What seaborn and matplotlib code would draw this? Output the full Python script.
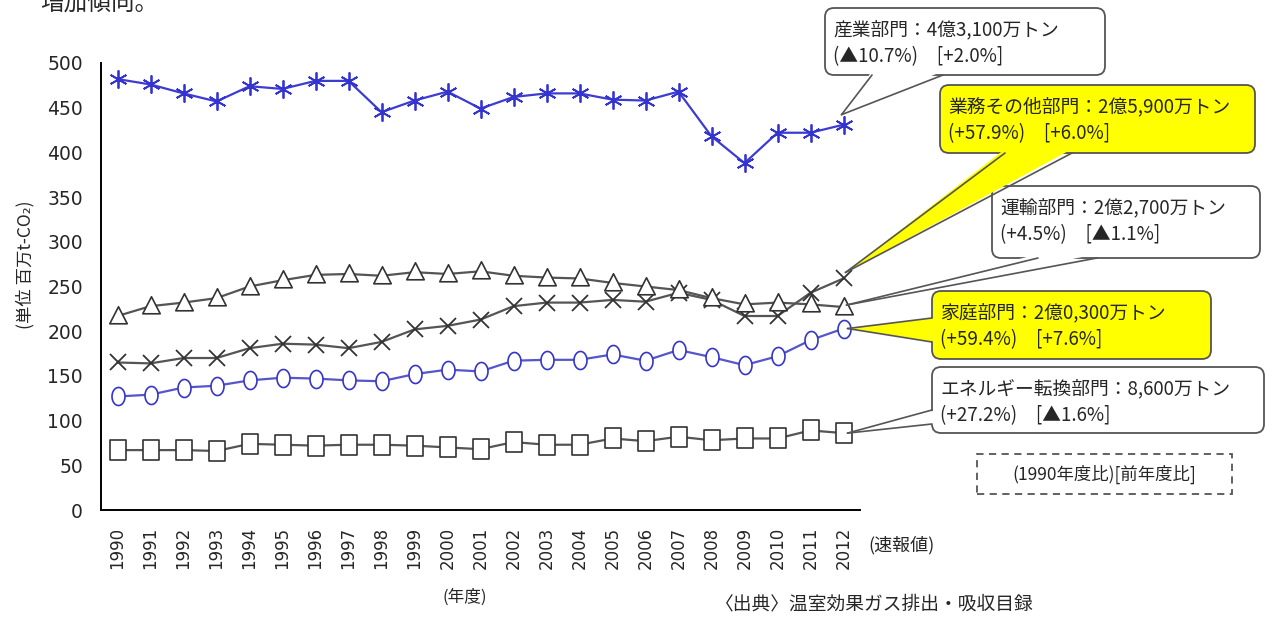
import numpy as np
import pandas as pd
import matplotlib
matplotlib.use("Agg")
import matplotlib.pyplot as plt
import seaborn as sns
from matplotlib.path import Path
from matplotlib.patches import FancyBboxPatch, Polygon, Rectangle
from matplotlib.lines import Line2D

# ---------------------------------------------------------------------------
# data (million t-CO2, fiscal years 1990-2012)
# ---------------------------------------------------------------------------
years = list(range(1990, 2013))
industry = [482, 476, 466, 457, 474, 471, 480, 480, 445, 458, 468, 449, 462,
            466, 466, 459, 458, 468, 418, 388, 422, 422, 431]
commercial = [165, 164, 170, 170, 181, 186, 185, 181, 188, 202, 206, 213, 228,
              232, 232, 235, 233, 243, 235, 217, 217, 243, 259]
transport = [217, 228, 232, 237, 250, 257, 263, 264, 262, 266, 264, 267, 262,
             260, 259, 254, 250, 246, 237, 230, 232, 230, 227]
household = [127, 129, 137, 139, 145, 148, 147, 145, 144, 152, 157, 155, 167,
             168, 168, 174, 167, 179, 171, 162, 172, 190, 203]
energy = [67, 67, 67, 66, 74, 73, 72, 73, 73, 72, 70, 68, 76, 73, 73, 80, 77,
          82, 78, 80, 80, 89, 86]

sectors = ["産業部門", "業務その他部門", "運輸部門", "家庭部門", "エネルギー転換部門"]

callout_lines = {
    "産業部門": ["産業部門：4億3,100万トン", "(▲10.7%)　[+2.0%]"],
    "業務その他部門": ["業務その他部門：2億5,900万トン", "(+57.9%)　[+6.0%]"],
    "運輸部門": ["運輸部門：2億2,700万トン", "(+4.5%)　[▲1.1%]"],
    "家庭部門": ["家庭部門：2億0,300万トン", "(+59.4%)　[+7.6%]"],
    "エネルギー転換部門": ["エネルギー転換部門：8,600万トン", "(+27.2%)　[▲1.6%]"],
}

df = pd.DataFrame({"year": years, "産業部門": industry, "業務その他部門": commercial,
                   "運輸部門": transport, "家庭部門": household,
                   "エネルギー転換部門": energy})
long_df = df.melt(id_vars="year", var_name="sector", value_name="value")

# ---------------------------------------------------------------------------
# style
# ---------------------------------------------------------------------------
sns.set_style("white")
plt.rcParams["font.family"] = ["DejaVu Sans", "Noto Sans CJK JP"]
JP = ["Noto Sans CJK JP", "DejaVu Sans"]

W, H, DPI = 1266, 618, 100
fig = plt.figure(figsize=(W / DPI, H / DPI), dpi=DPI)
ax = fig.add_axes([101 / W, (H - 510) / H, (860 - 101) / W, (510 - 63) / H])


# slightly tall marker shapes like the original
def shape(verts):
    verts = np.asarray(verts, dtype=float)
    verts = np.vstack([verts, verts[:1]])
    return Path(verts, closed=True)


t = np.linspace(0, 2 * np.pi, 41)[:-1]
ellipse = shape(np.c_[0.72 * np.cos(t), np.sin(t)])
square = shape([(-0.8, -1), (0.8, -1), (0.8, 1), (-0.8, 1)])
triangle = shape([(0, 1), (-0.9, -0.75), (0.9, -0.75)])

styles = {
    "産業部門": dict(color="#3c3cd2", marker=(6, 2, 0), markersize=13,
                 markerfacecolor="none", markeredgecolor="#3434d0", markeredgewidth=1.3),
    "業務その他部門": dict(color="#555555", marker="x", markersize=11,
                     markerfacecolor="none", markeredgecolor="#333333", markeredgewidth=1.3),
    "運輸部門": dict(color="#555555", marker=triangle, markersize=14,
                 markerfacecolor="white", markeredgecolor="#333333", markeredgewidth=1.2),
    "家庭部門": dict(color="#5555cc", marker=ellipse, markersize=13,
                 markerfacecolor="white", markeredgecolor="#3535c8", markeredgewidth=1.2),
    "エネルギー転換部門": dict(color="#555555", marker=square, markersize=14,
                      markerfacecolor="white", markeredgecolor="#333333", markeredgewidth=1.2),
}

for name in sectors:
    sns.lineplot(data=long_df[long_df["sector"] == name], x="year", y="value",
                 ax=ax, linewidth=1.6, errorbar=None, legend=False, **styles[name])

# axes
ax.set_xlim(1989.5, 2012.5)
ax.set_ylim(0, 500)
ax.set_yticks(range(0, 501, 50))
ax.set_xticks(years)
ax.set_xticklabels([str(y) for y in years], rotation=90)
ax.set_xticks(np.arange(1990.5, 2013, 1.0), minor=True)
ax.tick_params(axis="x", which="major", length=0, pad=12, labelsize=12)
ax.tick_params(axis="x", which="minor", direction="in", length=6, width=1.3, color="black")
ax.tick_params(axis="y", direction="in", length=5, width=1.2, pad=13, labelsize=13.5, color="#333333")
ax.set_xlabel("")
ax.set_ylabel("")
for side in ["top", "right"]:
    ax.spines[side].set_visible(False)
for side in ["left", "bottom"]:
    ax.spines[side].set_color("black")
    ax.spines[side].set_linewidth(1.4)


# ---------------------------------------------------------------------------
# callouts (pixel positions measured from the top-left corner)
# ---------------------------------------------------------------------------
def fp(x, y):
    return (x / DPI, (H - y) / DPI)


def callout(name, box, base, inward, tip_off, face):
    x0, y0, x1, y1 = box
    value = df.loc[df["year"] == 2012, name].iloc[0]
    tx, ty = ax.transData.transform((2012, value))
    tip = (tx / fig.dpi + tip_off[0] / DPI, ty / fig.dpi - tip_off[1] / DPI)
    b1, b2 = fp(*base[0]), fp(*base[1])
    dx, dy = inward[0] / DPI, -inward[1] / DPI
    fig.add_artist(FancyBboxPatch(fp(x0, y1), (x1 - x0) / DPI, (y1 - y0) / DPI,
                                  boxstyle="round,pad=0,rounding_size=0.09",
                                  transform=fig.dpi_scale_trans, fc=face,
                                  ec="#555555", lw=1.3, zorder=5))
    fig.add_artist(Polygon([(b1[0] + dx, b1[1] + dy), (b2[0] + dx, b2[1] + dy), tip],
                           closed=True, transform=fig.dpi_scale_trans, fc=face,
                           ec="none", zorder=6))
    for b in (b1, b2):
        fig.add_artist(Line2D([b[0], tip[0]], [b[1], tip[1]], color="#555555",
                              lw=1.2, transform=fig.dpi_scale_trans, zorder=7))
    l1, l2 = callout_lines[name]
    fig.text((x0 + 8) / W, 1 - (y0 + 22) / H, l1, family=JP, fontsize=13.5,
             va="center", ha="left", zorder=8)
    fig.text((x0 + 8) / W, 1 - (y0 + 49) / H, l2, family=JP, fontsize=13.5,
             va="center", ha="left", zorder=8)


callout("産業部門", (825, 8, 1105, 75), [(872, 75), (943, 75)], (0, -4), (-2, -10), "white")
callout("業務その他部門", (940, 85, 1255, 153), [(1005, 153), (1072, 153)], (0, -4), (2, -6), "#ffff00")
callout("運輸部門", (992, 186, 1260, 258), [(1038, 258), (1097, 258)], (0, -4), (3, -2), "white")
callout("家庭部門", (932, 291, 1211, 359), [(932, 318), (932, 342)], (4, 0), (4, 0), "#ffff00")
callout("エネルギー転換部門", (932, 367, 1264, 433), [(932, 410), (932, 424)], (4, 0), (4, 0), "white")

# dashed legend note
fig.add_artist(Rectangle(fp(977, 494), 255 / DPI, 40 / DPI, transform=fig.dpi_scale_trans,
                         fc="none", ec="#555555", lw=1.3, ls=(0, (4, 3)), zorder=5))
fig.text(1104 / W, 1 - 474 / H, "(1990年度比)[前年度比]", family=JP, fontsize=12.5,
         ha="center", va="center")

# other texts
fig.text(25 / W, 1 - 265 / H, "(単位 百万t-CO₂)", family=JP, fontsize=12.5,
         rotation=90, ha="center", va="center")
fig.text(868 / W, 1 - 545 / H, "(速報値)", family=JP, fontsize=13, ha="left", va="center")
fig.text(465 / W, 1 - 597 / H, "(年度)", family=JP, fontsize=12, ha="center", va="center")
fig.text(715 / W, 1 - 604 / H, "〈出典〉温室効果ガス排出・吸収目録", family=JP, fontsize=13.5,
         ha="left", va="center")
fig.text(40 / W, 1 - 4 / H, "増加傾向。", family=JP, fontsize=17, ha="left", va="center")

fig.savefig("out.png", dpi=DPI)
